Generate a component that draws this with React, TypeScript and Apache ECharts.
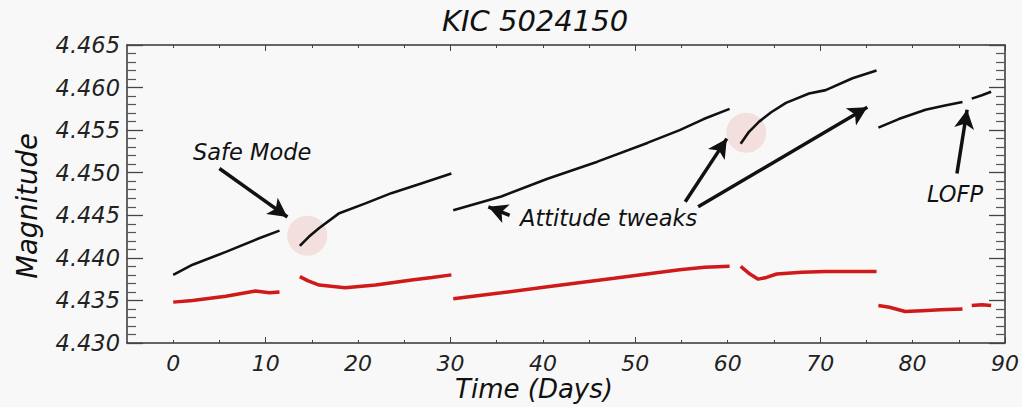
import React, { useEffect, useRef } from "react";
import * as echarts from "echarts";

// ---- data ----
const blackSegments: number[][][] = [
  [[0, 4.438], [2.1, 4.4392], [5.7, 4.4407], [9.3, 4.4423], [11.5, 4.4432]],
  [[13.7, 4.4414], [14.7, 4.4425], [15.8, 4.4435], [17.9, 4.4452], [20.8, 4.4464], [23.6, 4.4476], [27, 4.4488], [30.1, 4.4499]],
  [[30.3, 4.4456], [35.5, 4.4472], [40.5, 4.4493], [45.9, 4.4513], [51.3, 4.4535], [54.8, 4.455], [57.4, 4.4563], [60.2, 4.4575]],
  [[61.4, 4.4534], [62.3, 4.4548], [63.4, 4.456], [64.7, 4.4571], [66.3, 4.4582], [68.8, 4.4593], [70.6, 4.4597], [73.5, 4.4611], [76.1, 4.462]],
  [[76.3, 4.4553], [78.5, 4.4563], [81.4, 4.4574], [83.5, 4.4579], [85.4, 4.4583]],
  [[86.4, 4.4587], [87.5, 4.4591], [88.5, 4.4595]],
];

const redSegments: number[][][] = [
  [[0, 4.4348], [2.1, 4.435], [5.7, 4.4355], [8.9, 4.4361], [10.4, 4.4359], [11.5, 4.436]],
  [[13.7, 4.4378], [14.6, 4.4373], [15.8, 4.4368], [18.6, 4.4365], [21.9, 4.4368], [25.8, 4.4374], [28, 4.4377], [30.1, 4.438]],
  [[30.3, 4.4352], [35.5, 4.4359], [40.5, 4.4366], [47.7, 4.4376], [54.8, 4.4386], [57.5, 4.4389], [60.2, 4.439]],
  [[61.4, 4.439], [62.4, 4.4381], [63.3, 4.4375], [64.2, 4.4377], [65.3, 4.4381], [68, 4.4383], [70.6, 4.4384], [73.5, 4.4384], [76.1, 4.4384]],
  [[76.3, 4.4344], [77.5, 4.4342], [79.2, 4.4337], [81, 4.4338], [83, 4.4339], [85.4, 4.434]],
  [[86.4, 4.4344], [87.5, 4.4345], [88.5, 4.4344]],
];

const xMajorTicks = [10, 30, 50, 70, 90];
const xMinorTicks = [0, 5, 15, 20, 25, 35, 40, 45, 55, 60, 65, 75, 80, 85];
const xLabelValues = [0, 10, 20, 30, 40, 50, 60, 70, 80, 90];

const highlightCircles = [[14.5, 4.4426], [62.0, 4.4547]];

// arrows: [from, to]
const arrows: number[][][] = [
  [[5.0, 4.4505], [12.35, 4.4448]],
  [[36.4, 4.445], [34.1, 4.446]],
  [[55.4, 4.4466], [59.9, 4.454]],
  [[56.8, 4.446], [75.1, 4.4577]],
  [[84.8, 4.4499], [85.9, 4.4574]],
];

const titleText = "KIC 5024150";
const xName = "Time (Days)";
const yName = "Magnitude";
const notes = [
  { text: "Safe Mode", x: 193, y: 152 },
  { text: "Attitude tweaks", x: 520, y: 218 },
  { text: "LOFP", x: 927, y: 194 },
];

function join(segs: number[][][]): (number[] | null)[] {
  const out: (number[] | null)[] = [];
  segs.forEach((s, i) => {
    if (i > 0) out.push(null);
    s.forEach((p) => out.push(p));
  });
  return out;
}

const FONT = "DejaVu Sans";

export default function App() {
  const ref = useRef<HTMLDivElement>(null);
  useEffect(() => {
    document.body.style.margin = "0";
    const chart = echarts.init(ref.current!, null, { renderer: "svg" });
    const axisLineStyle = { color: "#333", width: 1.5 };
    const xCommon = { type: "value" as const, min: -5, max: 90, splitLine: { show: false } };
    const yCommon = {
      type: "value" as const,
      min: 4.43,
      max: 4.465,
      interval: 0.005,
      splitLine: { show: false },
      minorSplitLine: { show: false },
      axisLine: { show: true, onZero: false, lineStyle: axisLineStyle },
      axisTick: { show: true, inside: true, length: 16, lineStyle: { color: "#444", width: 1.3 } },
      minorTick: { show: true, splitNumber: 5, length: 9, lineStyle: { color: "#555", width: 1.2 } },
    };
    chart.setOption({
      animation: false,
      backgroundColor: "#f8f8f8",
      grid: { left: 127, right: 12, top: 45, bottom: 64 },
      xAxis: [
        {
          ...xCommon,
          position: "bottom",
          axisLine: { show: true, onZero: false, lineStyle: axisLineStyle },
          axisTick: { show: true, inside: true, length: 6, customValues: xMajorTicks, lineStyle: { color: "#444" } },
          axisLabel: {
            show: true,
            customValues: xLabelValues,
            fontFamily: FONT,
            fontStyle: "italic",
            fontSize: 22,
            color: "#222",
            margin: 9,
            formatter: (v: number) => String(v),
          },
        },
        {
          ...xCommon,
          position: "bottom",
          axisLine: { show: false, onZero: false },
          axisTick: { show: true, inside: true, length: 3, customValues: xMinorTicks, lineStyle: { color: "#444" } },
          axisLabel: { show: false },
        },
        {
          ...xCommon,
          position: "top",
          axisLine: { show: true, onZero: false, lineStyle: axisLineStyle },
          axisTick: { show: true, inside: true, length: 6, customValues: xMajorTicks, lineStyle: { color: "#444" } },
          axisLabel: { show: false },
        },
        {
          ...xCommon,
          position: "top",
          axisLine: { show: false, onZero: false },
          axisTick: { show: true, inside: true, length: 3, customValues: xMinorTicks, lineStyle: { color: "#444" } },
          axisLabel: { show: false },
        },
      ],
      yAxis: [
        {
          ...yCommon,
          position: "left",
          axisLabel: {
            show: true,
            fontFamily: FONT,
            fontStyle: "italic",
            fontSize: 22.5,
            color: "#222",
            margin: 7,
            formatter: (v: number) => v.toFixed(3),
          },
        },
        { ...yCommon, position: "right", axisLabel: { show: false } },
      ],
      series: [
        {
          type: "scatter",
          name: "highlight",
          xAxisIndex: 0,
          yAxisIndex: 0,
          data: highlightCircles,
          symbol: "circle",
          symbolSize: 40,
          itemStyle: { color: "rgba(240,200,200,0.65)" },
          z: 1,
          silent: true,
        },
        {
          type: "line",
          name: "red",
          xAxisIndex: 0,
          yAxisIndex: 0,
          data: join(redSegments),
          showSymbol: false,
          symbol: "none",
          connectNulls: false,
          lineStyle: { color: "#d01a1a", width: 3.5 },
          z: 3,
        },
        {
          type: "line",
          name: "black",
          xAxisIndex: 0,
          yAxisIndex: 0,
          data: join(blackSegments),
          showSymbol: false,
          symbol: "none",
          connectNulls: false,
          lineStyle: { color: "#111", width: 2.6 },
          z: 4,
          markLine: {
            silent: true,
            symbol: ["none", "arrow"],
            symbolSize: [15, 19],
            label: { show: false },
            lineStyle: { color: "#111", width: 3.5, type: "solid" },
            data: arrows.map((a) => [{ coord: a[0] }, { coord: a[1] }]),
          },
        },
      ],
      graphic: [
        {
          type: "text",
          x: 535,
          y: 21,
          style: {
            text: titleText,
            fontFamily: FONT,
            fontStyle: "italic",
            fontSize: 29,
            fill: "#111",
            align: "center",
            verticalAlign: "middle",
          },
        },
        {
          type: "text",
          x: 534,
          y: 389,
          style: {
            text: xName,
            fontFamily: FONT,
            fontStyle: "italic",
            fontSize: 26,
            fill: "#111",
            align: "center",
            verticalAlign: "middle",
          },
        },
        {
          type: "text",
          x: 27,
          y: 206,
          rotation: Math.PI / 2,
          style: {
            text: yName,
            fontFamily: FONT,
            fontStyle: "italic",
            fontSize: 27.5,
            fill: "#111",
            align: "center",
            verticalAlign: "middle",
          },
        },
        ...notes.map((n) => ({
          type: "text",
          x: n.x,
          y: n.y,
          style: {
            text: n.text,
            fontFamily: FONT,
            fontStyle: "italic",
            fontSize: 22.5,
            fill: "#111",
            align: "left",
            verticalAlign: "middle",
          },
        })),
      ],
    });
    return () => chart.dispose();
  }, []);
  return <div ref={ref} style={{ width: 1022, height: 407 }} />;
}
